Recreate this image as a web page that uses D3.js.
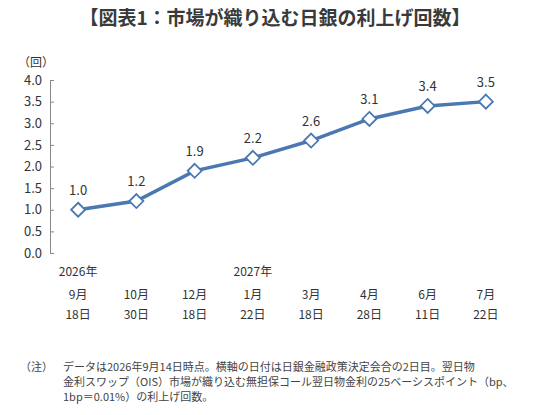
<!DOCTYPE html><html><head><meta charset="utf-8"><script src="https://cdn.jsdelivr.net/npm/d3@7"></script>
<style>body{margin:0;background:#fff}text{font-family:"Noto Sans CJK JP","Noto Sans",sans-serif}</style></head><body><svg id="c" width="550" height="415"></svg><script>
const years=["2026年","","","2027年","","","",""];
const months=["9月","10月","12月","1月","3月","4月","6月","7月"];
const days=["18日","30日","18日","22日","18日","28日","11日","22日"];
const values=[1.0,1.2,1.9,2.2,2.6,3.1,3.4,3.5];
const yTicks=[0,0.5,1,1.5,2,2.5,3,3.5,4];
const svg=d3.select("#c");
svg.append("text").attr("x",275).attr("y",25).attr("text-anchor","middle").attr("font-size",19).attr("font-weight","bold").attr("fill","#3a3a3a").text("【図表1：市場が織り込む日銀の利上げ回数】");
const x=d3.scaleBand().domain(d3.range(8)).range([49,515]);
const y=d3.scaleLinear().domain([0,4]).range([253,80]);
const ya=svg.append("g").attr("transform","translate(50,0)").call(d3.axisRight(y).tickValues(yTicks).tickFormat(d3.format(".1f")).tickSize(4).tickSizeOuter(0));
ya.select(".domain").attr("stroke","#888");ya.selectAll(".tick line").attr("stroke","#888");
ya.selectAll(".tick text").attr("x",-8).attr("text-anchor","end").attr("font-size",13).attr("fill","#333").attr("font-family","Verdana,'DejaVu Sans',sans-serif");
svg.append("text").attr("x",18).attr("y",67).attr("font-size",12).attr("fill","#333").text("（回）");
const cx=i=>x(i)+x.bandwidth()/2;
svg.append("path").datum(values).attr("fill","none").attr("stroke","#4a78b0").attr("stroke-width",3.5).attr("d",d3.line().x((d,i)=>cx(i)).y(d=>y(d)));
svg.selectAll(".m").data(values).join("path").attr("transform",(d,i)=>`translate(${cx(i)},${y(d)})`).attr("d","M0,-7L7,0L0,7L-7,0Z").attr("fill","#fff").attr("stroke","#4a78b0").attr("stroke-width",1.8);
svg.selectAll(".l").data(values).join("text").attr("x",(d,i)=>cx(i)).attr("y",d=>y(d)-15).attr("text-anchor","middle").attr("font-size",13).attr("fill","#333").attr("font-family","Verdana,'DejaVu Sans',sans-serif").text(d=>d.toFixed(1));
[[years,276],[months,299],[days,319]].forEach(([arr,yy])=>svg.selectAll(null).data(arr).join("text").attr("x",(d,i)=>cx(i)).attr("y",yy).attr("text-anchor","middle").attr("font-size",12).attr("fill","#333").text(d=>d));
svg.append("text").attr("x",20).attr("y",371).attr("font-size",11).attr("fill","#444").text("（注）");
["データは2026年9月14日時点。横軸の日付は日銀金融政策決定会合の2日目。翌日物","金利スワップ（OIS）市場が織り込む無担保コール翌日物金利の25ベーシスポイント（bp、","1bp＝0.01%）の利上げ回数。"].forEach((t,i)=>svg.append("text").attr("x",63).attr("y",371+i*15).attr("font-size",11).attr("fill","#444").text(t));
</script></body></html>
